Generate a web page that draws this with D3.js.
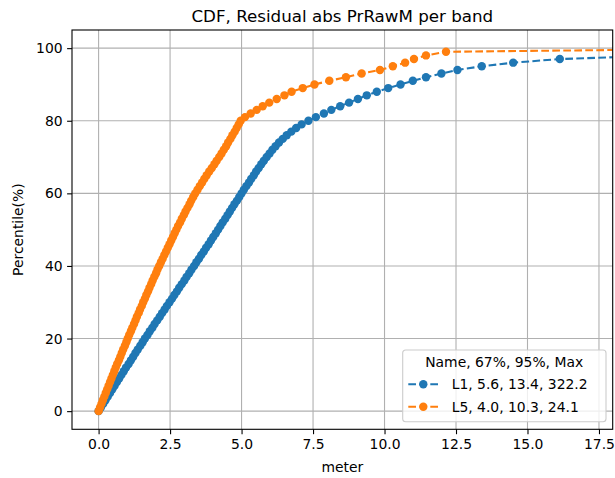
<!DOCTYPE html>
<html lang="en">
<head>
<meta charset="UTF-8">
<title>CDF, Residual abs PrRawM per band</title>
<script src="https://d3js.org/d3.v7.min.js"></script>
<style>
  body { margin: 0; background: #fff; }
  text { font-family: "DejaVu Sans", sans-serif; fill: #000; }
</style>
</head>
<body>
<svg id="chart" width="615" height="478"></svg>
<script>
// percentile levels (y) for each point
const percentiles = [0,1,2,3,4,5,6,7,8,9,10,11,12,13,14,15,16,17,18,19,20,21,22,23,24,25,26,27,28,29,30,
  31,32,33,34,35,36,37,38,39,40,41,42,43,44,45,46,47,48,49,50,51,52,53,54,55,56,57,58,59,60,
  61,62,63,64,65,66,67,68,69,70,71,72,73,74,75,76,77,78,79,80,81,82,83,84,85,86,87,88,89,90,
  91,92,93,94,95,96,97,98,99,100];

// residual (meter) at each percentile
const l1Values = [0.00,0.08,0.16,0.24,0.32,0.40,0.48,0.56,0.64,0.72,0.80,
  0.88,0.96,1.05,1.13,1.21,1.29,1.37,1.46,1.54,1.62,
  1.71,1.79,1.88,1.96,2.05,2.14,2.22,2.31,2.39,2.48,
  2.57,2.65,2.74,2.82,2.91,3.00,3.08,3.17,3.25,3.34,
  3.42,3.51,3.59,3.68,3.76,3.85,3.93,4.01,4.10,4.18,
  4.26,4.34,4.43,4.51,4.59,4.67,4.75,4.84,4.92,5.00,
  5.08,5.17,5.26,5.34,5.43,5.51,5.60,5.69,5.78,5.88,
  5.98,6.08,6.19,6.31,6.44,6.58,6.74,6.91,7.10,7.34,
  7.60,7.88,8.14,8.45,8.76,9.07,9.38,9.73,10.13,10.56,
  10.99,11.45,11.99,12.55,13.40,14.50,16.13,19.90,31.50,322.20];

const l5Values = [0.00,0.05,0.10,0.15,0.20,0.25,0.30,0.35,0.40,0.45,0.50,
  0.55,0.60,0.65,0.71,0.76,0.81,0.86,0.92,0.97,1.02,
  1.07,1.13,1.18,1.24,1.29,1.34,1.40,1.45,1.51,1.56,
  1.62,1.67,1.73,1.78,1.84,1.89,1.95,2.01,2.06,2.12,
  2.18,2.24,2.30,2.36,2.42,2.48,2.54,2.60,2.66,2.72,
  2.78,2.85,2.91,2.98,3.04,3.11,3.18,3.24,3.31,3.38,
  3.46,3.54,3.62,3.70,3.78,3.87,3.96,4.05,4.13,4.22,
  4.30,4.38,4.46,4.53,4.61,4.68,4.76,4.83,4.90,4.97,
  5.12,5.32,5.53,5.74,5.97,6.23,6.50,6.75,7.14,7.55,
  8.07,8.65,9.20,9.84,10.29,10.72,11.03,11.45,12.15,24.10];

const seriesNames = ["L1, 5.6, 13.4, 322.2", "L5, 4.0, 10.3, 24.1"];
const seriesColors = ["#1f77b4", "#ff7f0e"];
const legendTitle = "Name, 67%, 95%, Max";

const xTicks = [0, 2.5, 5, 7.5, 10, 12.5, 15, 17.5];
const yTicks = [0, 20, 40, 60, 80, 100];

const svg = d3.select("#chart");
const margin = {top: 30, right: 2.3, bottom: 48.7, left: 72};
const width = 615 - margin.left - margin.right;
const height = 478 - margin.top - margin.bottom;
const g = svg.append("g").attr("transform", `translate(${margin.left},${margin.top})`);

const x = d3.scaleLinear().domain([-0.93, 17.98]).range([0, width]);
const y = d3.scaleLinear().domain([-5, 105]).range([height, 0]);

// grid
g.append("g").selectAll("line").data(xTicks).join("line")
  .attr("x1", d => x(d)).attr("x2", d => x(d))
  .attr("y1", 0).attr("y2", height)
  .attr("stroke", "#b0b0b0").attr("stroke-width", 1.1);
g.append("g").selectAll("line").data(yTicks).join("line")
  .attr("x1", 0).attr("x2", width)
  .attr("y1", d => y(d)).attr("y2", d => y(d))
  .attr("stroke", "#b0b0b0").attr("stroke-width", 1.1);

// data, clipped to the axes box
svg.append("defs").append("clipPath").attr("id", "plotclip")
  .append("rect").attr("width", width).attr("height", height);
const plot = g.append("g").attr("clip-path", "url(#plotclip)");

const line = d3.line().x(d => x(d[0])).y(d => y(d[1]));
[l1Values, l5Values].forEach((vals, i) => {
  const pts = vals.map((v, j) => [v, percentiles[j]]);
  plot.append("path")
    .datum(pts)
    .attr("d", line)
    .attr("fill", "none")
    .attr("stroke", seriesColors[i])
    .attr("stroke-width", 2.08)
    .attr("stroke-dasharray", "7.7,3.3");
  plot.append("g").selectAll("circle").data(pts).join("circle")
    .attr("cx", d => x(d[0]))
    .attr("cy", d => y(d[1]))
    .attr("r", 4.2)
    .attr("fill", seriesColors[i]);
});

// axes
const xAxis = g.append("g").attr("transform", `translate(0,${height})`)
  .call(d3.axisBottom(x).tickValues(xTicks).tickFormat(d3.format(".1f")).tickSizeOuter(0).tickSize(4.9).tickPadding(4.5));
const yAxis = g.append("g")
  .call(d3.axisLeft(y).tickValues(yTicks).tickFormat(d3.format("d")).tickSizeOuter(0).tickSize(4.9).tickPadding(4.5));
[xAxis, yAxis].forEach(a => {
  a.select(".domain").remove();
  a.selectAll(".tick line").attr("stroke", "#000").attr("stroke-width", 1.1);
  a.selectAll(".tick text").style("font-size", "13.9px").style("font-family", "DejaVu Sans, sans-serif").attr("fill", "#000");
});

// frame
g.append("rect").attr("width", width).attr("height", height)
  .attr("fill", "none").attr("stroke", "#000").attr("stroke-width", 1.1);

// title and labels
svg.append("text").attr("x", margin.left + width / 2).attr("y", 21.5)
  .attr("text-anchor", "middle").style("font-size", "16.7px").text("CDF, Residual abs PrRawM per band");
svg.append("text").attr("x", margin.left + width / 2).attr("y", 472)
  .attr("text-anchor", "middle").style("font-size", "13.9px").text("meter");
svg.append("text").attr("transform", `translate(23,${margin.top + height / 2}) rotate(-90)`)
  .attr("text-anchor", "middle").style("font-size", "13.9px").text("Percentile(%)");

// legend
const lg = svg.append("g").attr("transform", "translate(402.7,350)");
lg.append("rect").attr("width", 203.3).attr("height", 71.7).attr("rx", 3)
  .attr("fill", "#fff").attr("fill-opacity", 0.8).attr("stroke", "#cccccc").attr("stroke-width", 1.1);
lg.append("text").attr("x", 101.5).attr("y", 16.5).attr("text-anchor", "middle")
  .style("font-size", "13.9px").text(legendTitle);
seriesNames.forEach((name, i) => {
  const cy = 34.3 + i * 22.4;
  lg.append("line").attr("x1", 5.6).attr("x2", 37.4).attr("y1", cy).attr("y2", cy)
    .attr("stroke", seriesColors[i]).attr("stroke-width", 2.08).attr("stroke-dasharray", "7.7,3.3");
  lg.append("circle").attr("cx", 20.6).attr("cy", cy).attr("r", 4.2).attr("fill", seriesColors[i]);
  lg.append("text").attr("x", 49).attr("y", cy + 5).style("font-size", "13.9px").text(name);
});
</script>
</body>
</html>
